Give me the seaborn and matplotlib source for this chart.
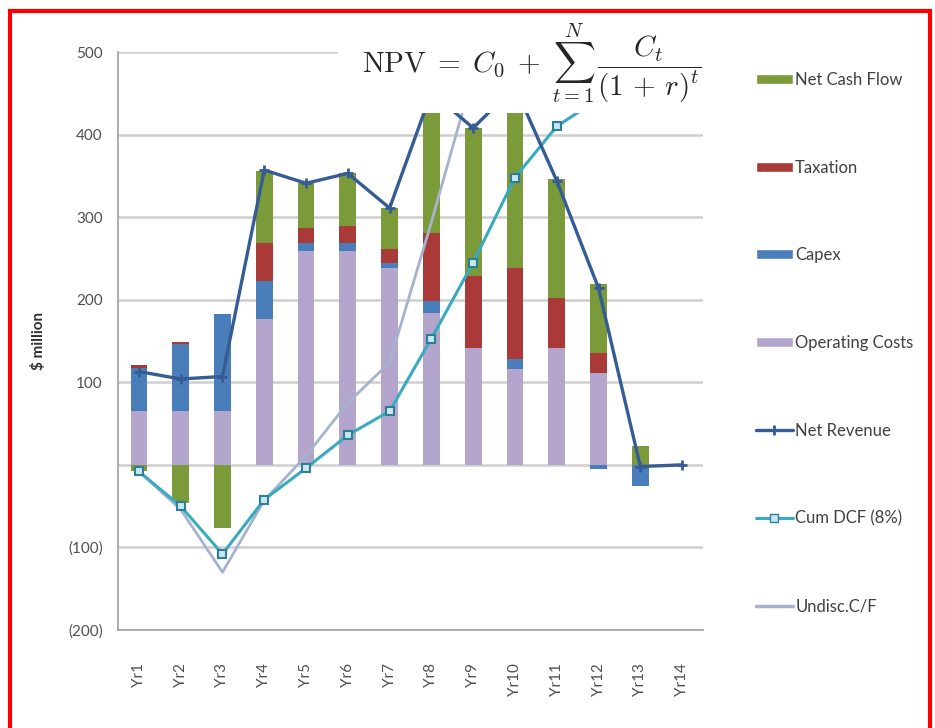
import matplotlib
matplotlib.use("Agg")
import matplotlib.pyplot as plt
import numpy as np
import seaborn as sns
from matplotlib.lines import Line2D
from matplotlib.patches import Patch, Rectangle

sns.set_style("white")
plt.rcParams["font.family"] = ["Lato", "DejaVu Sans"]
plt.rcParams["mathtext.fontset"] = "cm"

years = ["Yr1", "Yr2", "Yr3", "Yr4", "Yr5", "Yr6", "Yr7",
         "Yr8", "Yr9", "Yr10", "Yr11", "Yr12", "Yr13", "Yr14"]

# stacked bar components ($ million)
operating_costs = [65, 65, 65, 177, 259, 259, 239, 184, 142, 116, 142, 111, 0, 0]
capex = [52, 81, 118, 46, 10, 10, 6, 15, 0, 12, 0, -5, -25, 0]
taxation = [4, 3, 0, 46, 18, 20, 17, 82, 87, 111, 60, 25, 0, 0]
net_cash_flow = [-8, -46, -76, 87, 54, 64, 49, 170, 179, 220, 144, 83, 23, 0]

# line series ($ million)
net_revenue = [113, 104, 107, 357, 341, 353, 311, 451, 408, 458, 344, 214, -2, 0]
cum_dcf = [-8, -50, -108, -42, -4, 36, 65, 153, 245, 348, 410, 443, 442, 442]
undisc_cf = [-8, -54, -130, -43, 11, 75, 124, 294, 473, 693, 837, 920, 943, 943]

y_ticks = [-200, -100, 0, 100, 200, 300, 400, 500]
y_tick_labels = ["(200)", "(100)", "", "100", "200", "300", "400", "500"]

C_NCF = "#7B9B3B"
C_TAX = "#A93A37"
C_CAPEX = "#4A7EBB"
C_OPEX = "#B3A5CC"
C_NR = "#355C94"
C_DCF = "#3AAAC0"
C_UND = "#A5B4CC"

W, H = 935, 728
fig = plt.figure(figsize=(W / 100, H / 100), dpi=100)
ax = fig.add_axes([118 / W, 1 - 630 / H, (703 - 118) / W, (630 - 52) / H])

x = np.arange(len(years))
layers = [(operating_costs, C_OPEX), (capex, C_CAPEX), (taxation, C_TAX), (net_cash_flow, C_NCF)]
pos_base = np.zeros(len(years))
neg_base = np.zeros(len(years))
for vals, col in layers:
    v = np.array(vals, dtype=float)
    pos = np.where(v > 0, v, 0)
    neg = np.where(v < 0, v, 0)
    ax.bar(x, pos, bottom=pos_base, width=0.4, color=col, zorder=2, linewidth=0)
    ax.bar(x, neg, bottom=neg_base, width=0.4, color=col, zorder=2, linewidth=0)
    pos_base += pos
    neg_base += neg

sns.lineplot(x=x, y=undisc_cf, ax=ax, color=C_UND, linewidth=2, zorder=3)
sns.lineplot(x=x, y=cum_dcf, ax=ax, color=C_DCF, linewidth=2.2, marker="s",
             markersize=6, markerfacecolor="#C9E7F0", markeredgecolor="#2E7F96",
             markeredgewidth=1.5, zorder=4)
sns.lineplot(x=x, y=net_revenue, ax=ax, color=C_NR, linewidth=2.4, marker="+",
             markersize=7, markeredgewidth=2, markeredgecolor=C_NR, zorder=5)

ax.set_xlim(-0.5, len(years) - 0.5)
ax.set_ylim(-200, 500)
ax.set_yticks(y_ticks)
ax.set_yticklabels(y_tick_labels, fontsize=11, color="#505050")
ax.set_xticks(x)
ax.set_xticklabels(years, rotation=90, fontsize=11, color="#505050")
ax.set_xticks(np.arange(-0.5, len(years), 1), minor=True)
ax.tick_params(axis="x", which="major", length=0, pad=24)
ax.tick_params(axis="x", which="minor", length=5, color="#9A9A9A", direction="out")
ax.tick_params(axis="y", length=5, color="#9A9A9A", direction="out", pad=6)
ax.yaxis.grid(True, color="#CFCFCF", linewidth=1.8, zorder=0)
ax.set_axisbelow(True)
for s in ["top", "right"]:
    ax.spines[s].set_visible(False)
for s in ["left", "bottom"]:
    ax.spines[s].set_color("#A0A0A0")
    ax.spines[s].set_linewidth(1.2)
ax.set_ylabel("$ million", fontsize=11, fontweight="bold", color="#303030", labelpad=16)
if ax.get_legend():
    ax.get_legend().remove()

# white box with the NPV formula over the top of the plot
fig.patches.append(Rectangle((338 / W, 1 - 113 / H), (750 - 338) / W, (113 - 15) / H,
                             transform=fig.transFigure, facecolor="white",
                             edgecolor="none", zorder=10))
fig.text(532 / W, 1 - 63 / H,
         r"$\mathrm{NPV}\;=\;C_0\;+\;\sum_{t=1}^{N}\,\dfrac{C_t}{(1\,+\,r)^t}$",
         fontsize=21, ha="center", va="center", zorder=11)

handles = [
    Patch(facecolor=C_NCF, label="Net Cash Flow"),
    Patch(facecolor=C_TAX, label="Taxation"),
    Patch(facecolor=C_CAPEX, label="Capex"),
    Patch(facecolor=C_OPEX, label="Operating Costs"),
    Line2D([], [], color=C_NR, linewidth=2.4, marker="+", markersize=7,
           markeredgewidth=2, label="Net Revenue"),
    Line2D([], [], color=C_DCF, linewidth=2.2, marker="s", markersize=6,
           markerfacecolor="#C9E7F0", markeredgecolor="#2E7F96", label="Cum DCF (8%)"),
    Line2D([], [], color=C_UND, linewidth=2.5, label="Undisc.C/F"),
]
leg = fig.legend(handles=handles, loc="upper left", bbox_to_anchor=(756 / W, 1 - 72 / H),
                 frameon=False, fontsize=12, labelspacing=4.3, handlelength=2.2,
                 handleheight=0.55, handletextpad=0.15, borderpad=0, borderaxespad=0)
for t in leg.get_texts():
    t.set_color("#404040")

# red frame around the picture
fig.patches.append(Rectangle((10 / W, 1 - 740 / H), (930 - 10) / W, (740 - 11) / H,
                             transform=fig.transFigure, facecolor="none",
                             edgecolor="#FF0000", linewidth=3, zorder=20))

fig.savefig("out.png", dpi=100)
plt.close(fig)
